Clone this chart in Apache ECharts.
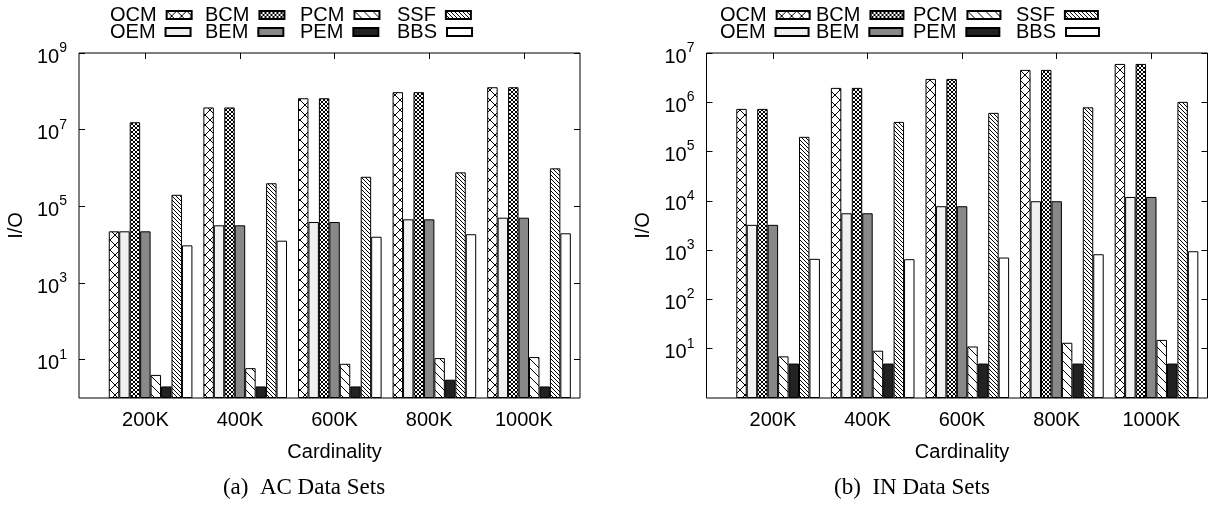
<!DOCTYPE html>
<html>
<head>
<meta charset="utf-8">
<script src="https://cdn.jsdelivr.net/npm/echarts@6/dist/echarts.min.js"></script>
<style>
  html, body { margin: 0; padding: 0; background: #fff; }
  #chart { width: 1214px; height: 506px; }
</style>
</head>
<body>
<div id="chart"></div>
<script>
// ---- data ----
const cardinalities = ['200K', '400K', '600K', '800K', '1000K'];
const methodNames = ['OCM', 'OEM', 'BCM', 'BEM', 'PCM', 'PEM', 'SSF', 'BBS'];

// (a) AC data sets: I/O counts
const acOCM = [22300, 3.8e7, 6.6e7, 9.5e7, 1.28e8];
const acOEM = [22300, 32000, 39000, 45800, 50500];
const acBCM = [1.56e7, 3.8e7, 6.6e7, 9.5e7, 1.28e8];
const acBEM = [22300, 32000, 39000, 45800, 50500];
const acPCM = [4, 6, 7.8, 11, 11.7];
const acPEM = [2, 2, 2, 3, 2];
const acSSF = [2.0e5, 4.0e5, 5.9e5, 7.7e5, 9.8e5];
const acBBS = [9600, 12700, 16100, 18700, 19800];

// (b) IN data sets: I/O counts
const inOCM = [7.35e5, 1.96e6, 2.98e6, 4.54e6, 6.0e6];
const inOEM = [3260, 5600, 7780, 9820, 12000];
const inBCM = [7.35e5, 1.96e6, 2.98e6, 4.54e6, 6.0e6];
const inBEM = [3260, 5600, 7780, 9820, 12000];
const inPCM = [7, 9.1, 11.1, 13.2, 15.1];
const inPEM = [5, 5, 5, 5, 5];
const inSSF = [1.99e5, 4.0e5, 6.1e5, 7.9e5, 1.02e6];
const inBBS = [666, 655, 708, 826, 950];

// y-axis tick values
const acTicks = [10, 1e3, 1e5, 1e7, 1e9];
const inTicks = [10, 1e2, 1e3, 1e4, 1e5, 1e6, 1e7];

// ---- fill patterns ----
function tile(size, draw) {
  const c = document.createElement('canvas');
  c.width = size; c.height = size;
  const g = c.getContext('2d');
  g.fillStyle = '#fff';
  g.fillRect(0, 0, size, size);
  g.strokeStyle = '#000';
  g.lineWidth = 1;
  g.beginPath();
  draw(g, size);
  g.stroke();
  return c;
}
function backDiag(g, s) {
  g.moveTo(-1, -1); g.lineTo(s + 1, s + 1);
  g.moveTo(-1, s - 1); g.lineTo(1, s + 1);
  g.moveTo(s - 1, -1); g.lineTo(s + 1, 1);
}
function fwdDiag(g, s) {
  g.moveTo(-1, s + 1); g.lineTo(s + 1, -1);
  g.moveTo(-1, 1); g.lineTo(1, -1);
  g.moveTo(s - 1, s + 1); g.lineTo(s + 1, s - 1);
}
const pattern = (canvas) => ({ image: canvas, repeat: 'repeat' });
const fills = {
  OCM: pattern(tile(10, (g, s) => { backDiag(g, s); fwdDiag(g, s); })),
  OEM: '#f0f0f0',
  BCM: pattern(tile(4, (g, s) => { backDiag(g, s); fwdDiag(g, s); })),
  BEM: '#888888',
  PCM: pattern(tile(9, backDiag)),
  PEM: '#222222',
  SSF: pattern(tile(4, backDiag)),
  BBS: '#ffffff'
};

// ---- layout ----
const SANS = 'Liberation Sans, Arial, Helvetica, sans-serif';
const SERIF = 'Liberation Serif, Times New Roman, serif';
const PLOT_TOP = 53, PLOT_H = 345, PLOT_W = 501;
const BAND_SPAN = 473;

const panels = [
  {
    left: 79, yMax: 1e9, ticks: acTicks,
    values: { OCM: acOCM, OEM: acOEM, BCM: acBCM, BEM: acBEM, PCM: acPCM, PEM: acPEM, SSF: acSSF, BBS: acBBS },
    legendX: [110, 205, 300, 397], swatch: 25,
    caption: '(a)  AC Data Sets', captionX: 304
  },
  {
    left: 706.5, yMax: 1e7, ticks: inTicks,
    values: { OCM: inOCM, OEM: inOEM, BCM: inBCM, BEM: inBEM, PCM: inPCM, PEM: inPEM, SSF: inSSF, BBS: inBBS },
    legendX: [720, 816, 913, 1016], swatch: 33,
    caption: '(b)  IN Data Sets', captionX: 912
  }
];

// key layout: 4 columns by 2 rows
const legendColumns = [['OCM', 'OEM'], ['BCM', 'BEM'], ['PCM', 'PEM'], ['SSF', 'BBS']];
const legendRowTop = [5, 22];

function powerLabel(v) {
  return '{b|10}{s|' + Math.round(Math.log10(v)) + '}';
}
const powerRich = {
  b: { fontSize: 20, fontFamily: SANS, color: '#000', lineHeight: 24, padding: [8, 0, 0, 0] },
  s: { fontSize: 14, fontFamily: SANS, color: '#000', lineHeight: 14, padding: [4, 0, 14, 0] }
};

const grid = [], xAxis = [], yAxis = [], series = [], legend = [], title = [];

panels.forEach((p) => {
  const g0 = grid.length;
  // outer frame
  grid.push({ left: p.left, top: PLOT_TOP, width: PLOT_W, height: PLOT_H, show: true,
              borderColor: '#000', borderWidth: 1, backgroundColor: 'transparent' });
  // category labels and ticks
  grid.push({ left: p.left + 19.1, top: PLOT_TOP, width: BAND_SPAN, height: PLOT_H });
  // bar clusters
  grid.push({ left: p.left + 24.3, top: PLOT_TOP, width: BAND_SPAN, height: PLOT_H });

  const tickStyle = { show: true, inside: true, length: 6, lineStyle: { color: '#000', width: 1 } };

  xAxis.push({ gridIndex: g0, type: 'category', data: cardinalities, show: false });
  xAxis.push({
    gridIndex: g0 + 1, type: 'category', data: cardinalities, position: 'bottom',
    axisLine: { show: false }, axisTick: Object.assign({ alignWithLabel: true }, tickStyle),
    axisLabel: { fontSize: 20, fontFamily: SANS, color: '#000', margin: 12 },
    name: 'Cardinality', nameLocation: 'middle', nameGap: 44,
    nameTextStyle: { fontSize: 20, fontFamily: SANS, color: '#000' }
  });
  xAxis.push({
    gridIndex: g0 + 1, type: 'category', data: cardinalities, position: 'top',
    axisLine: { show: false }, axisTick: Object.assign({ alignWithLabel: true }, tickStyle),
    axisLabel: { show: false }
  });
  const barX = xAxis.length;
  xAxis.push({ gridIndex: g0 + 2, type: 'category', data: cardinalities, show: false });

  const logBase = { type: 'log', logBase: 10, min: 1, max: p.yMax, splitLine: { show: false } };
  yAxis.push(Object.assign({}, logBase, {
    gridIndex: g0, position: 'left',
    axisLine: { show: false },
    axisTick: Object.assign({ customValues: p.ticks }, tickStyle),
    minorTick: { show: false },
    axisLabel: { customValues: p.ticks, formatter: powerLabel, rich: powerRich, margin: 12 },
    name: 'I/O', nameLocation: 'middle', nameGap: 53, nameRotate: 90,
    nameTextStyle: { fontSize: 20, fontFamily: SANS, color: '#000' }
  }));
  yAxis.push(Object.assign({}, logBase, {
    gridIndex: g0, position: 'right',
    axisLine: { show: false },
    axisTick: Object.assign({ customValues: p.ticks }, tickStyle),
    axisLabel: { show: false }
  }));
  yAxis.push(Object.assign({}, logBase, { gridIndex: g0 + 1, show: false }));
  const barY = yAxis.length;
  yAxis.push(Object.assign({}, logBase, { gridIndex: g0 + 2, show: false }));

  methodNames.forEach((name) => {
    series.push({
      type: 'bar', name: name, xAxisIndex: barX, yAxisIndex: barY,
      data: p.values[name],
      barGap: '0%', barCategoryGap: '11.6%',
      itemStyle: { color: fills[name], borderColor: '#000', borderWidth: 1 },
      emphasis: { disabled: true }, silent: true
    });
  });

  legendColumns.forEach((col, i) => {
    col.forEach((name, r) => {
      legend.push({
        orient: 'horizontal', left: p.legendX[i], top: legendRowTop[r], align: 'right',
        padding: 0, itemWidth: p.swatch, itemHeight: 8, icon: 'rect',
        selectedMode: false, data: [name],
        textStyle: { fontSize: 20, fontFamily: SANS, color: '#000', lineHeight: 17, padding: [0, 5, 0, 0] }
      });
    });
  });

  title.push({
    text: p.caption, left: p.captionX, top: 476, textAlign: 'center', padding: 0,
    textStyle: { fontSize: 23, fontFamily: SERIF, fontWeight: 'normal', color: '#000' }
  });
});

const chart = echarts.init(document.getElementById('chart'), null, { renderer: 'canvas' });
chart.setOption({
  animation: false,
  backgroundColor: '#fff',
  title, grid, xAxis, yAxis, series, legend
});
</script>
</body>
</html>
